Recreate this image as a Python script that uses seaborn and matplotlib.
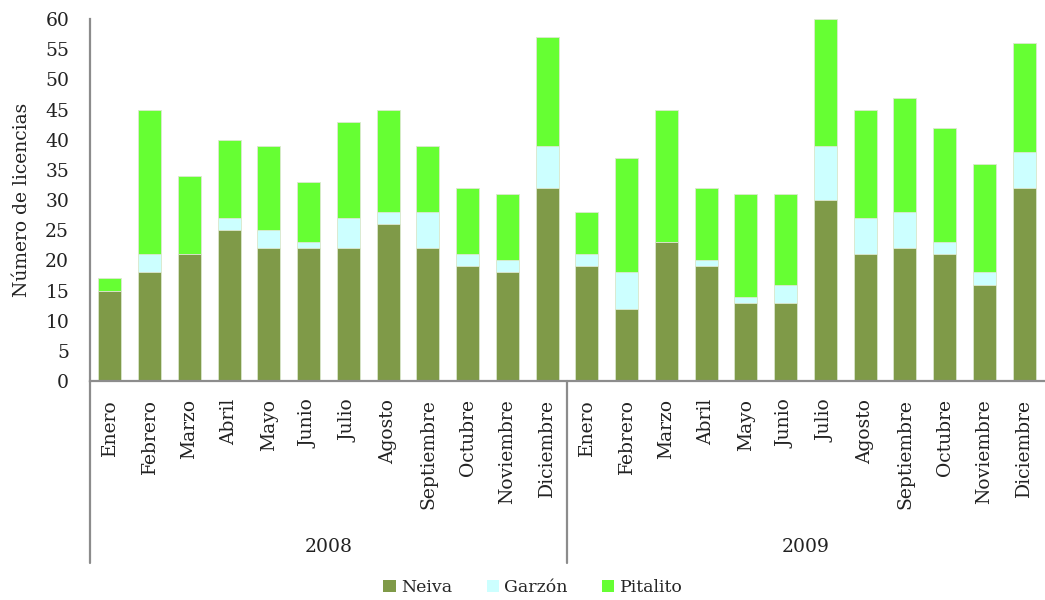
import numpy as np
import pandas as pd
import matplotlib.pyplot as plt
import seaborn as sns
from matplotlib.patches import Patch
from matplotlib.lines import Line2D

# ── Data ────────────────────────────────────────────────────
meses = ["Enero", "Febrero", "Marzo", "Abril", "Mayo", "Junio", "Julio",
         "Agosto", "Septiembre", "Octubre", "Noviembre", "Diciembre"]
anios = ["2008", "2009"]

neiva_2008    = [15, 18, 21, 25, 22, 22, 22, 26, 22, 19, 18, 32]
garzon_2008   = [0, 3, 0, 2, 3, 1, 5, 2, 6, 2, 2, 7]
pitalito_2008 = [2, 24, 13, 13, 14, 10, 16, 17, 11, 11, 11, 18]

neiva_2009    = [19, 12, 23, 19, 13, 13, 30, 21, 22, 21, 16, 32]
garzon_2009   = [2, 6, 0, 1, 1, 3, 9, 6, 6, 2, 2, 6]
pitalito_2009 = [7, 19, 22, 12, 17, 15, 21, 18, 19, 19, 18, 18]

colores = {"Neiva": "#7F9A48", "Garzón": "#CCFFFF", "Pitalito": "#66FF33"}

# ── Table ───────────────────────────────────────────────────
df = pd.DataFrame({
    "anio": np.repeat(anios, len(meses)),
    "mes": meses * 2,
    "Neiva": neiva_2008 + neiva_2009,
    "Garzón": garzon_2008 + garzon_2009,
    "Pitalito": pitalito_2008 + pitalito_2009,
})
df["clave"] = df["mes"] + " " + df["anio"]
df["tope_garzon"] = df["Neiva"] + df["Garzón"]
df["total"] = df["tope_garzon"] + df["Pitalito"]
orden = list(df["clave"])

# ── Plot ────────────────────────────────────────────────────
sns.set_theme(style="white")
plt.rcParams["font.family"] = ["DejaVu Serif"]
fs = 13.5
txt = "#222222"

fig = plt.figure(figsize=(10.45, 6), dpi=100)
ax = fig.add_axes([0.0861, 0.365, 0.913, 0.603])

kw = dict(x="clave", order=orden, width=0.58, saturation=1,
          edgecolor="#dde8d0", linewidth=0.6, ax=ax)
sns.barplot(data=df, y="total", color=colores["Pitalito"], **kw)
sns.barplot(data=df, y="tope_garzon", color=colores["Garzón"], **kw)
sns.barplot(data=df, y="Neiva", color=colores["Neiva"], **kw)

gris = "#8C8C8C"
ax.set_ylim(0, 60)
ax.set_xlim(-0.5, len(orden) - 0.5)
ax.set_yticks(range(0, 61, 5))
ax.tick_params(axis="y", length=0, pad=15, labelsize=fs, colors=txt)
ax.set_xticks(range(len(orden)))
ax.set_xticklabels(df["mes"], rotation=90, va="top", ha="center")
ax.tick_params(axis="x", length=0, pad=13, labelsize=fs, colors=txt)
ax.set_xlabel("")
ax.set_ylabel("Número de licencias", fontsize=fs, labelpad=10, color=txt)

for s in ["top", "right"]:
    ax.spines[s].set_visible(False)
for s in ["left", "bottom"]:
    ax.spines[s].set_color(gris)
    ax.spines[s].set_linewidth(1.6)

# group axis: vertical lines and year labels
trans = ax.get_xaxis_transform()
for xpos in [-0.5, 11.5]:
    ax.add_line(Line2D([xpos, xpos], [0, -0.503], transform=trans,
                       color=gris, lw=1.6, clip_on=False))
for i, anio in enumerate(anios):
    ax.text(5.5 + 12 * i, -0.459, anio, transform=trans, ha="center",
            va="center", fontsize=fs, color=txt)

handles = [Patch(facecolor=colores[k], edgecolor="none", label=k)
           for k in ["Neiva", "Garzón", "Pitalito"]]
fig.legend(handles=handles, loc="lower center", bbox_to_anchor=(0.51, -0.02),
           ncol=3, frameon=False, fontsize=12.5, handlelength=0.7,
           handleheight=0.7, handletextpad=0.3, columnspacing=2.0)

plt.savefig("out.png", dpi=100)
